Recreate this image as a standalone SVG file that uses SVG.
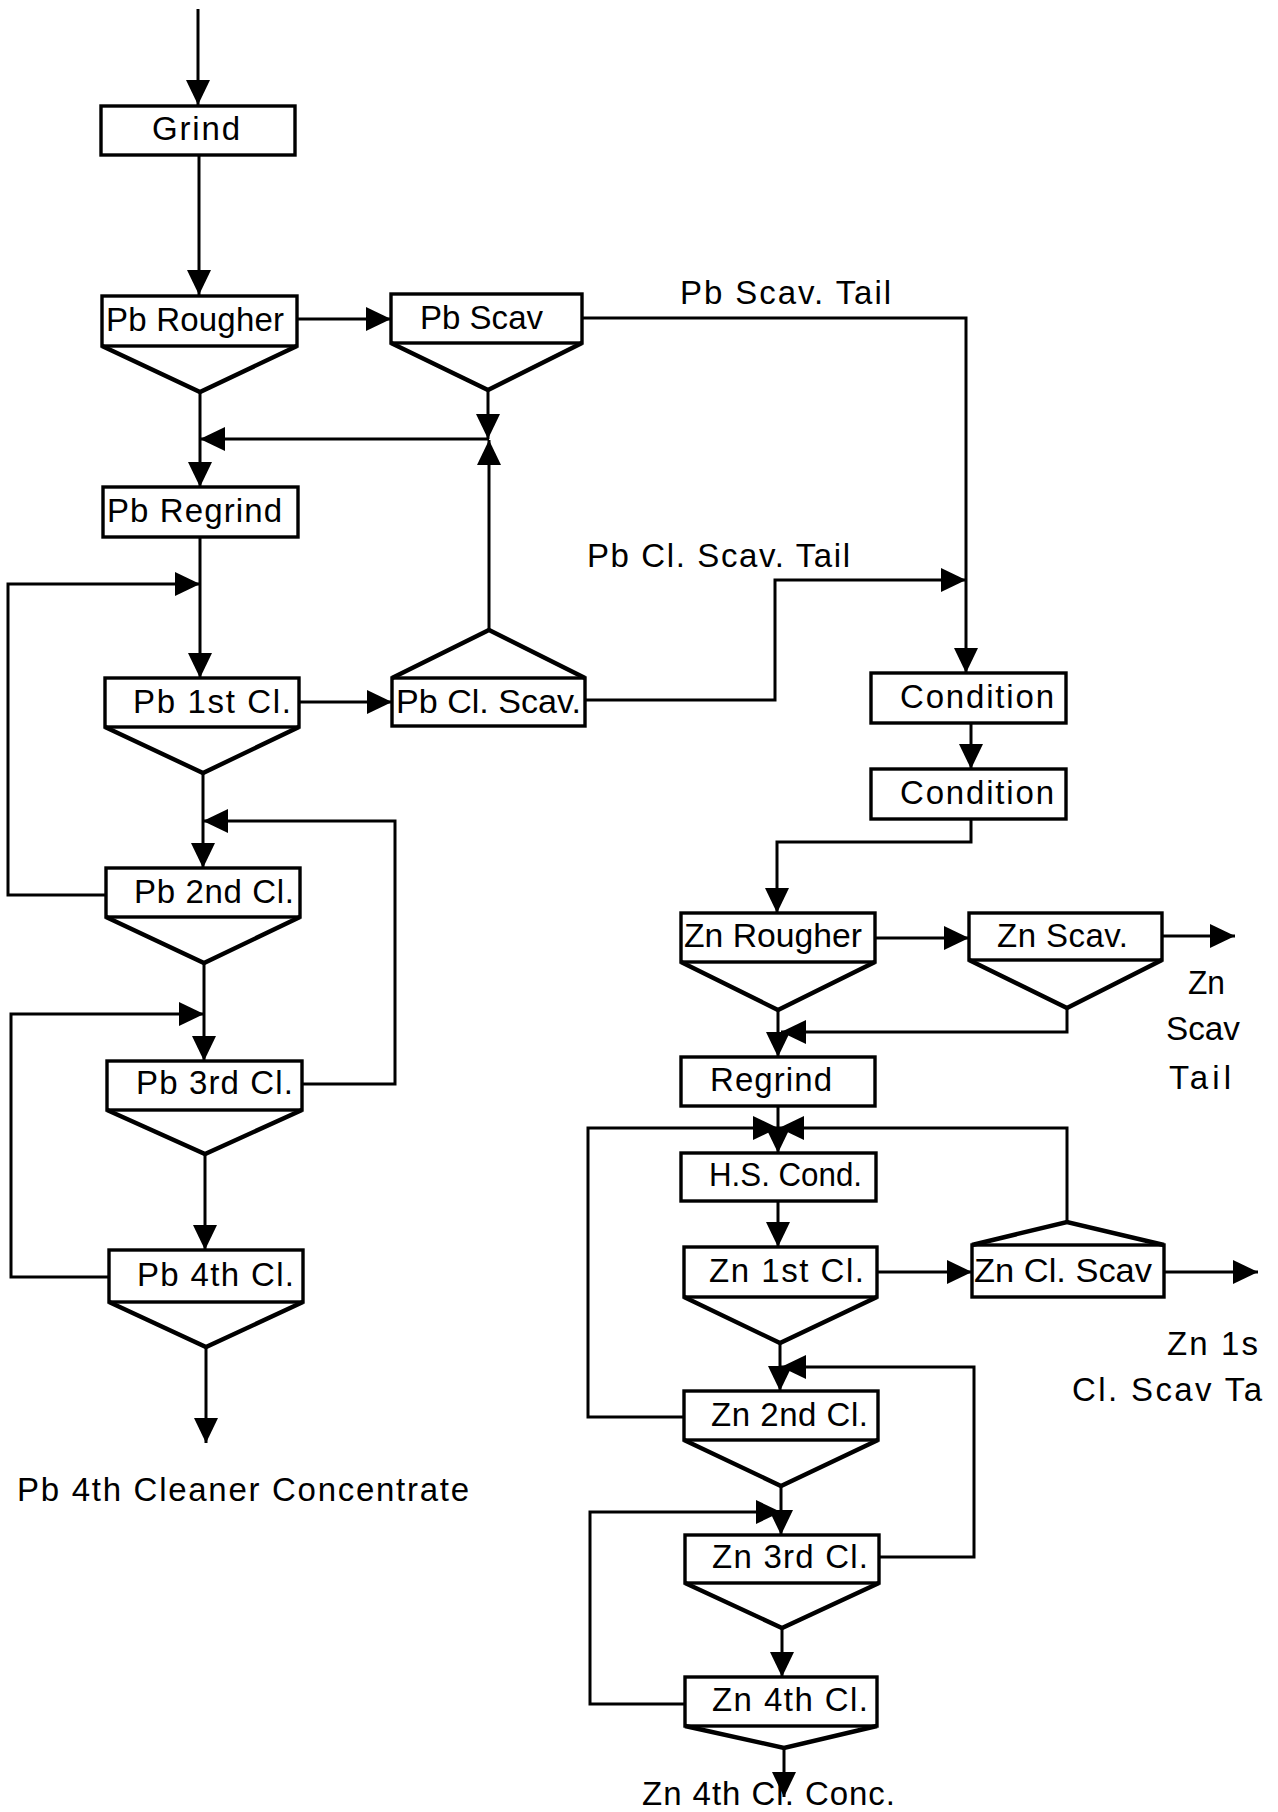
<svg xmlns="http://www.w3.org/2000/svg" width="1278" height="1812" viewBox="0 0 1278 1812">
<style>
  .box { fill: #fff; stroke: #000; stroke-width: 3.4; }
  .hop { fill: none; stroke: #000; stroke-width: 4.4; stroke-linejoin: miter; }
  .ln { fill: none; stroke: #000; stroke-width: 3; }
  .arr { marker-end: url(#ah); }
  text { font-family: "Liberation Sans", Arial, sans-serif; font-size: 33px; fill: #000; }
</style>
<defs>
  <marker id="ah" markerUnits="userSpaceOnUse" markerWidth="28" markerHeight="26" refX="25" refY="12" orient="auto">
    <path d="M0,0 L25,12 L0,24 z" fill="#000"/>
  </marker>
</defs>
<rect width="1278" height="1812" fill="#fff"/>

<g id="connectors">
  <!-- Pb circuit -->
  <path class="ln arr" d="M198,9 V105"/>
  <path class="ln arr" d="M199,155 V295"/>
  <path class="ln arr" d="M297,319 H391"/>
  <path class="ln arr" d="M582,318 H966 V673"/>
  <path class="ln arr" d="M488,390 V439"/>
  <path class="ln arr" d="M489,439 H200"/>
  <path class="ln arr" d="M200,392 V487"/>
  <path class="ln arr" d="M200,537 V678"/>
  <path class="ln arr" d="M106,895 H8 V584 H200"/>
  <path class="ln arr" d="M299,702 H392"/>
  <path class="ln arr" d="M489,630 V440"/>
  <path class="ln arr" d="M585,700 H775 V580 H966"/>
  <path class="ln arr" d="M203,773 V868"/>
  <path class="ln arr" d="M302,1084 H395 V821 H203"/>
  <path class="ln arr" d="M204,963 V1061"/>
  <path class="ln arr" d="M109,1277 H11 V1014 H204"/>
  <path class="ln arr" d="M205,1154 V1250"/>
  <path class="ln arr" d="M206,1347 V1443"/>
  <!-- Zn circuit -->
  <path class="ln arr" d="M971,723 V769"/>
  <path class="ln arr" d="M971,819 V842 H777 V913"/>
  <path class="ln arr" d="M875,938 H969"/>
  <path class="ln arr" d="M1162,936 H1235"/>
  <path class="ln arr" d="M1067,1008 V1032 H781"/>
  <path class="ln arr" d="M778,1010 V1057"/>
  <path class="ln arr" d="M778,1106 V1153"/>
  <path class="ln arr" d="M684,1417 H588 V1128 H778"/>
  <path class="ln arr" d="M1067,1222 V1128 H779"/>
  <path class="ln arr" d="M778,1201 V1247"/>
  <path class="ln arr" d="M877,1272 H972"/>
  <path class="ln arr" d="M1164,1272 H1258"/>
  <path class="ln arr" d="M780,1343 V1391"/>
  <path class="ln arr" d="M880,1557 H974 V1367 H781"/>
  <path class="ln arr" d="M781,1486 V1535"/>
  <path class="ln arr" d="M686,1704 H590 V1512 H781"/>
  <path class="ln arr" d="M782,1628 V1677"/>
  <path class="ln arr" d="M784,1748 V1797"/>
</g>

<g id="grind">
  <rect class="box" x="101" y="106" width="194" height="49"/>
  <text x="152" y="140" textLength="88" lengthAdjust="spacing">Grind</text>
</g>
<g id="pb-rougher">
  <rect class="box" x="102" y="296" width="195" height="50"/>
  <polyline class="hop" points="102,346 200,392 297,346"/>
  <text x="106" y="331" textLength="178" lengthAdjust="spacing">Pb Rougher</text>
</g>
<g id="pb-scav">
  <rect class="box" x="391" y="294" width="191" height="49"/>
  <polyline class="hop" points="391,343 488,390 582,343"/>
  <text x="420" y="329" textLength="123" lengthAdjust="spacing">Pb Scav</text>
</g>
<g id="pb-regrind">
  <rect class="box" x="103" y="487" width="195" height="50"/>
  <text x="107" y="522" textLength="175" lengthAdjust="spacing">Pb Regrind</text>
</g>
<g id="pb-1st-cl">
  <rect class="box" x="105" y="678" width="194" height="49"/>
  <polyline class="hop" points="105,727 203,773 299,727"/>
  <text x="133" y="713" textLength="158" lengthAdjust="spacing">Pb 1st Cl.</text>
</g>
<g id="pb-cl-scav">
  <rect class="box" x="392" y="678" width="193" height="48"/>
  <polyline class="hop" points="392,678 489,630 585,678"/>
  <text x="396" y="713" textLength="185" lengthAdjust="spacingAndGlyphs">Pb Cl. Scav.</text>
</g>
<g id="pb-2nd-cl">
  <rect class="box" x="106" y="868" width="194" height="49"/>
  <polyline class="hop" points="106,917 204,963 300,917"/>
  <text x="134" y="903" textLength="160" lengthAdjust="spacing">Pb 2nd Cl.</text>
</g>
<g id="pb-3rd-cl">
  <rect class="box" x="107" y="1061" width="195" height="49"/>
  <polyline class="hop" points="107,1110 205,1154 302,1110"/>
  <text x="136" y="1094" textLength="157" lengthAdjust="spacing">Pb 3rd Cl.</text>
</g>
<g id="pb-4th-cl">
  <rect class="box" x="109" y="1250" width="194" height="52"/>
  <polyline class="hop" points="109,1302 206,1347 303,1302"/>
  <text x="137" y="1286" textLength="157" lengthAdjust="spacing">Pb 4th Cl.</text>
</g>

<g id="condition-1">
  <rect class="box" x="871" y="673" width="195" height="50"/>
  <text x="900" y="708" textLength="154" lengthAdjust="spacing">Condition</text>
</g>
<g id="condition-2">
  <rect class="box" x="871" y="769" width="195" height="50"/>
  <text x="900" y="804" textLength="154" lengthAdjust="spacing">Condition</text>
</g>
<g id="zn-rougher">
  <rect class="box" x="681" y="913" width="194" height="49"/>
  <polyline class="hop" points="681,962 778,1010 875,962"/>
  <text x="684" y="947" textLength="178" lengthAdjust="spacingAndGlyphs">Zn Rougher</text>
</g>
<g id="zn-scav">
  <rect class="box" x="969" y="913" width="193" height="47"/>
  <polyline class="hop" points="969,960 1067,1008 1162,960"/>
  <text x="997" y="947" textLength="131" lengthAdjust="spacing">Zn Scav.</text>
</g>
<g id="regrind">
  <rect class="box" x="681" y="1057" width="194" height="49"/>
  <text x="710" y="1091" textLength="122" lengthAdjust="spacing">Regrind</text>
</g>
<g id="hs-cond">
  <rect class="box" x="681" y="1153" width="195" height="48"/>
  <text x="709" y="1186" textLength="153" lengthAdjust="spacingAndGlyphs">H.S. Cond.</text>
</g>
<g id="zn-1st-cl">
  <rect class="box" x="684" y="1247" width="193" height="50"/>
  <polyline class="hop" points="684,1297 780,1343 877,1297"/>
  <text x="709" y="1282" textLength="155" lengthAdjust="spacing">Zn 1st Cl.</text>
</g>
<g id="zn-cl-scav">
  <rect class="box" x="972" y="1245" width="192" height="52"/>
  <polyline class="hop" points="972,1245 1067,1222 1164,1245"/>
  <text x="974" y="1282" textLength="178" lengthAdjust="spacingAndGlyphs">Zn Cl. Scav</text>
</g>
<g id="zn-2nd-cl">
  <rect class="box" x="684" y="1391" width="194" height="49"/>
  <polyline class="hop" points="684,1440 781,1486 878,1440"/>
  <text x="711" y="1426" textLength="157" lengthAdjust="spacing">Zn 2nd Cl.</text>
</g>
<g id="zn-3rd-cl">
  <rect class="box" x="685" y="1535" width="194" height="48"/>
  <polyline class="hop" points="685,1583 782,1628 879,1583"/>
  <text x="712" y="1568" textLength="156" lengthAdjust="spacing">Zn 3rd Cl.</text>
</g>
<g id="zn-4th-cl">
  <rect class="box" x="685" y="1677" width="192" height="49"/>
  <polyline class="hop" points="685,1726 784,1748 877,1726"/>
  <text x="712" y="1711" textLength="156" lengthAdjust="spacing">Zn 4th Cl.</text>
</g>

<g id="labels">
  <text x="680" y="304" textLength="211" lengthAdjust="spacing">Pb Scav. Tail</text>
  <text x="587" y="567" textLength="263" lengthAdjust="spacing">Pb Cl. Scav. Tail</text>
  <text x="17" y="1501" textLength="452" lengthAdjust="spacing">Pb 4th Cleaner Concentrate</text>
  <text x="1188" y="994" textLength="37" lengthAdjust="spacingAndGlyphs">Zn</text>
  <text x="1166" y="1040" textLength="74" lengthAdjust="spacingAndGlyphs">Scav</text>
  <text x="1169" y="1089" textLength="62" lengthAdjust="spacing">Tail</text>
  <text x="1167" y="1355" textLength="91" lengthAdjust="spacing">Zn 1s</text>
  <text x="1072" y="1401" textLength="190" lengthAdjust="spacing">Cl. Scav Ta</text>
  <text x="642" y="1805" textLength="253" lengthAdjust="spacing">Zn 4th Cl. Conc.</text>
</g>
</svg>
